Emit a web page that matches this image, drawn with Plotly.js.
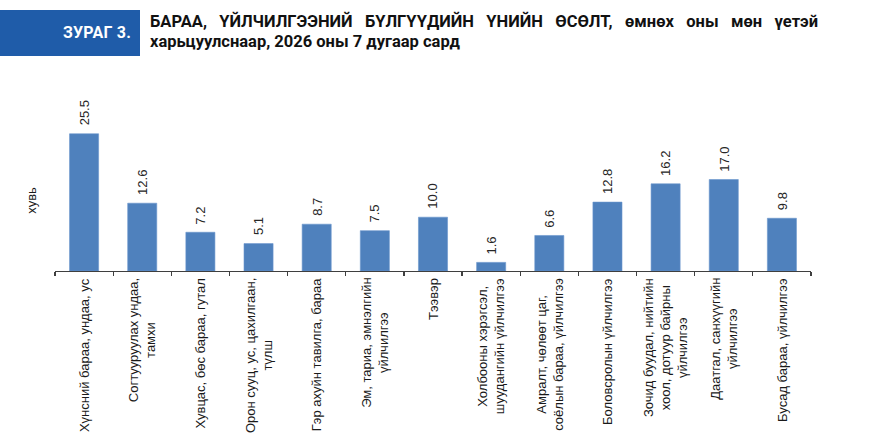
<!DOCTYPE html>
<html>
<head>
<meta charset="utf-8">
<script src="https://cdn.plot.ly/plotly-3.0.1.min.js"></script>
<style>
  body { margin: 0; background: #fff; }
  #wrap { position: relative; width: 870px; height: 445px; overflow: hidden; }
  #chart { position: absolute; left: 0; top: 0; width: 870px; height: 445px; }
  #badge {
    position: absolute; left: 0; top: 10px; width: 140px; height: 46px;
    background: #1f5ca9; color: #fff; font: bold 16px Roboto, sans-serif;
    box-sizing: border-box; padding-right: 9px; text-align: right; line-height: 46px;
    letter-spacing: 0.2px;
  }
  #heading {
    position: absolute; left: 150px; top: 12px; width: 668px;
    font: bold 16.5px Roboto, sans-serif; color: #111; line-height: 20px;
    text-align: justify; text-align-last: left;
  }
  #heading .l1 { display: block; text-align: justify; text-align-last: justify; }
</style>
</head>
<body>
<div id="wrap">
  <div id="chart"></div>
  <div id="badge">ЗУРАГ 3.</div>
  <div id="heading"><span class="l1">БАРАА, ҮЙЛЧИЛГЭЭНИЙ БҮЛГҮҮДИЙН ҮНИЙН ӨСӨЛТ, өмнөх оны мөн үетэй</span>харьцуулснаар, 2026 оны 7 дугаар сард</div>
</div>
<script>
var categories = [
  'Хүнсний бараа, ундаа, ус',
  'Согтууруулах ундаа,<br>тамхи',
  'Хувцас, бөс бараа, гутал',
  'Орон сууц, ус, цахилгаан,<br>түлш',
  'Гэр ахуйн тавилга, бараа',
  'Эм, тариа, эмнэлгийн<br>үйлчилгээ',
  'Тээвэр',
  'Холбооны хэрэгсэл,<br>шуудангийн үйлчилгээ',
  'Амралт, чөлөөт цаг,<br>соёлын бараа, үйлчилгээ',
  'Боловсролын үйлчилгээ',
  'Зочид буудал, нийтийн<br>хоол, дотуур байрны<br>үйлчилгээ',
  'Даатгал, санхүүгийн<br>үйлчилгээ',
  'Бусад бараа, үйлчилгээ'
];
var growth = [25.5, 12.6, 7.2, 5.1, 8.7, 7.5, 10.0, 1.6, 6.6, 12.8, 16.2, 17.0, 9.8];
var yTitle = 'хувь';

var trace1 = {
  x: categories,
  y: growth,
  type: 'bar',
  marker: { color: '#4f81bd', line: { color: '#6a96cc', width: 0.6 } },
  hoverinfo: 'none'
};

var annotations = [];
for (var i = 0; i < categories.length; i++) {
  // value above the bar
  annotations.push({
    x: categories[i], y: growth[i], xref: 'x', yref: 'y',
    text: growth[i].toFixed(1), textangle: -90,
    showarrow: false, yanchor: 'bottom', yshift: 6,
    font: { size: 13, color: '#262626' }
  });
  // category name under the axis
  annotations.push({
    x: categories[i], y: 0, xref: 'x', yref: 'paper',
    text: categories[i], textangle: -90, align: 'center',
    showarrow: false, yanchor: 'top', yshift: -5,
    font: { size: 13, color: '#1a1a1a' }
  });
}

var layout = {
  width: 870,
  height: 445,
  margin: { l: 55, r: 59, t: 130, b: 174 },
  paper_bgcolor: '#fff',
  plot_bgcolor: '#fff',
  font: { family: 'Liberation Sans, Arial, sans-serif', size: 13, color: '#1a1a1a' },
  bargap: 0.5,
  showlegend: false,
  xaxis: {
    type: 'category',
    showline: true, linecolor: '#3f3f3f', linewidth: 1.3,
    ticks: 'outside', ticklen: 4, tickcolor: '#3f3f3f', tickwidth: 1.3,
    tickson: 'boundaries',
    showticklabels: false, showgrid: false, zeroline: false
  },
  yaxis: {
    range: [0, 26.2],
    showline: false, showgrid: false, zeroline: false,
    showticklabels: false, ticks: '',
    title: { text: yTitle, standoff: 14, font: { size: 13, color: '#1a1a1a' } }
  },
  annotations: annotations
};

Plotly.newPlot('chart', [trace1], layout, { displayModeBar: false, staticPlot: true });
</script>
</body>
</html>
